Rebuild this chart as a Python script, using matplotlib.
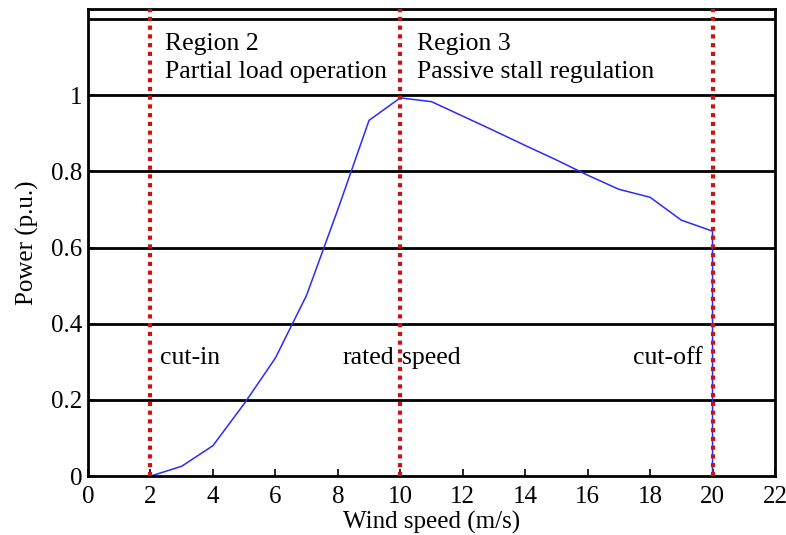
import matplotlib
matplotlib.use("Agg")
import matplotlib.pyplot as plt

wind_speed = [2, 3, 4, 5, 6, 7, 8, 9, 10, 11, 12, 13, 14, 15, 16, 17, 18, 19, 20, 20]
power = [0.0, 0.026, 0.08, 0.19, 0.31, 0.475, 0.70, 0.934, 0.993, 0.983, 0.945, 0.907,
         0.868, 0.83, 0.79, 0.753, 0.732, 0.672, 0.643, 0.0]
region_speeds = [2, 10, 20]
x_ticks = [0, 2, 4, 6, 8, 10, 12, 14, 16, 18, 20, 22]
y_ticks = [0, 0.2, 0.4, 0.6, 0.8, 1.0]
y_tick_labels = ["0", "0.2", "0.4", "0.6", "0.8", "1"]
grid_levels = [0.2, 0.4, 0.6, 0.8, 1.0, 1.2]

plt.rcParams['font.family'] = ['Liberation Serif', 'DejaVu Serif']

fig = plt.figure(figsize=(7.86, 5.35), dpi=100)
ax = fig.add_axes([0.112, 0.110, 0.874, 0.873])

for g in grid_levels:
    ax.axhline(g, color='black', lw=2, zorder=1)

ax.plot(wind_speed, power, color='#2a2aff', lw=1.1, zorder=2)

for xs in region_speeds:
    ax.axvline(xs, color='#c81414', lw=3, linestyle=(0, (1, 1.1)), zorder=3)

ax.set_xlim(0, 22)
ax.set_ylim(0, 1.226)
ax.set_xticks(x_ticks)
ax.set_yticks(y_ticks)
ax.set_yticklabels(y_tick_labels)
ax.tick_params(direction='in', length=5, width=1.2, labelsize=18)
ax.tick_params(axis='x', pad=7)
ax.tick_params(axis='y', pad=4)
for s in ax.spines.values():
    s.set_linewidth(2)

ax.set_xlabel("Wind speed (m/s)", fontsize=18, labelpad=2)
ax.set_ylabel("Power (p.u.)", fontsize=18, labelpad=9)

fs = 18.5
ax.text(2.45, 1.135, "Region 2", fontsize=fs, va='center', ha='left')
ax.text(2.45, 1.06, "Partial load operation", fontsize=fs, va='center', ha='left')
ax.text(10.55, 1.135, "Region 3", fontsize=fs, va='center', ha='left')
ax.text(10.55, 1.06, "Passive stall regulation", fontsize=fs, va='center', ha='left')
ax.text(2.3, 0.31, "cut-in", fontsize=fs, va='center', ha='left')
ax.text(8.15, 0.31, "rated", fontsize=fs, va='center', ha='left')
ax.text(10.05, 0.31, "speed", fontsize=fs, va='center', ha='left')
ax.text(17.45, 0.31, "cut-off", fontsize=fs, va='center', ha='left')

fig.savefig("out.png", dpi=100)
